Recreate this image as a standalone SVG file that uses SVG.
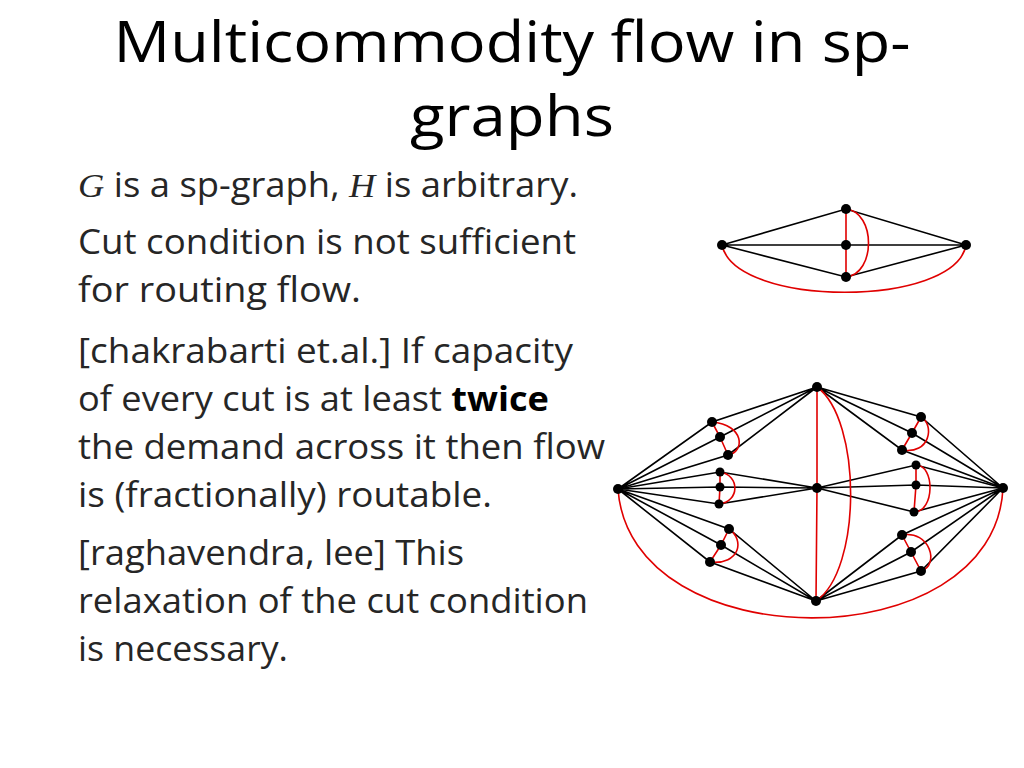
<svg xmlns="http://www.w3.org/2000/svg" width="1024" height="768" viewBox="0 0 1024 768">
<style>
.t{font-family:"Open Sans",sans-serif;font-size:56px;fill:#000;text-anchor:middle}
.b{font-family:"Open Sans",sans-serif;font-size:34px;fill:#262626}
.k{stroke:#000;stroke-width:1.6;fill:none}
.r{stroke:#e00000;stroke-width:1.6;fill:none}
circle{fill:#000}
</style>
<rect width="1024" height="768" fill="#fff"/>
<text class="t" x="512" y="62" textLength="797" lengthAdjust="spacingAndGlyphs">Multicommodity flow in sp-</text>
<text class="t" x="512" y="136" textLength="204" lengthAdjust="spacingAndGlyphs">graphs</text>
<g>
<text class="b" x="78" y="197" textLength="500" lengthAdjust="spacingAndGlyphs"><tspan font-style="italic" font-family="Liberation Serif,serif">G</tspan> is a sp-graph, <tspan font-style="italic" font-family="Liberation Serif,serif">H</tspan> is arbitrary.</text>
<text class="b" x="78" y="254" textLength="498" lengthAdjust="spacingAndGlyphs">Cut condition is not sufficient</text>
<text class="b" x="78" y="302" textLength="283" lengthAdjust="spacingAndGlyphs">for routing flow.</text>
<text class="b" x="78" y="363" textLength="495" lengthAdjust="spacingAndGlyphs">[chakrabarti et.al.] If capacity</text>
<text class="b" x="78" y="411" textLength="471" lengthAdjust="spacingAndGlyphs">of every cut is at least <tspan font-weight="bold" fill="#000">twice</tspan></text>
<text class="b" x="78" y="459" textLength="527" lengthAdjust="spacingAndGlyphs">the demand across it then flow</text>
<text class="b" x="78" y="507" textLength="414" lengthAdjust="spacingAndGlyphs">is (fractionally) routable.</text>
<text class="b" x="78" y="565" textLength="386" lengthAdjust="spacingAndGlyphs">[raghavendra, lee] This</text>
<text class="b" x="78" y="613" textLength="510" lengthAdjust="spacingAndGlyphs">relaxation of the cut condition</text>
<text class="b" x="78" y="661" textLength="210" lengthAdjust="spacingAndGlyphs">is necessary.</text>
</g>
<g id="connectors">
<path class="k" d="M722 245L846 209L966 245M722 245L966 245M722 245L846 277L966 245"/>
<path class="r" d="M846 209L846 277M846 209C876 212 876 274 846 277M722 245C735 308 955 308 966 245"/>
<path class="k" d="M618 489L712 422L817 387M618 489L720 437L817 387M618 489L728 455L817 387"/>
<path class="k" d="M618 489L720 472L817 488M618 489L720 487L817 488M618 489L719 504L817 488"/>
<path class="k" d="M618 489L729 529L816 601M618 489L721 545L816 601M618 489L710 562L816 601"/>
<path class="k" d="M1003 488L921 417L817 387M1003 488L912 433L817 387M1003 488L902 450L817 387"/>
<path class="k" d="M1003 488L916 465L817 488M1003 488L916 485L817 488M1003 488L914 512L817 488"/>
<path class="k" d="M1003 488L902 535L816 601M1003 488L911 552L816 601M1003 488L921 571L816 601"/>
<path class="r" d="M817 387L817 488L816 601M817 387C862 420 862 570 816 601M618 489C630 661 995 661 1003 488"/>
<path class="r" d="M712 422L720 437L728 455M712 422C745 425 745 452 728 455"/>
<path class="r" d="M720 472L720 487L719 504M720 472C740 475 740 502 719 504"/>
<path class="r" d="M729 529L721 545L710 562M729 529C745 540 740 565 710 562"/>
<path class="r" d="M921 417L912 433L902 450M921 417C935 425 930 455 902 450"/>
<path class="r" d="M916 465L916 485L914 512M916 465C935 465 935 512 914 512"/>
<path class="r" d="M902 535L911 552L921 571M902 535C930 530 940 565 921 571"/>
</g>
<g id="nodes">
<circle cx="722" cy="245" r="5"/><circle cx="846" cy="209" r="5"/><circle cx="846" cy="245" r="5"/><circle cx="846" cy="277" r="5"/><circle cx="966" cy="245" r="5"/>
<circle cx="618" cy="489" r="5"/><circle cx="817" cy="387" r="5"/><circle cx="817" cy="488" r="5"/><circle cx="816" cy="601" r="5"/><circle cx="1003" cy="488" r="5"/>
<circle cx="712" cy="422" r="5"/><circle cx="720" cy="437" r="5"/><circle cx="728" cy="455" r="5"/>
<circle cx="720" cy="472" r="4.5"/><circle cx="720" cy="487" r="4.5"/><circle cx="719" cy="504" r="4.5"/>
<circle cx="729" cy="529" r="5"/><circle cx="721" cy="545" r="5"/><circle cx="710" cy="562" r="5"/>
<circle cx="921" cy="417" r="5"/><circle cx="912" cy="433" r="5"/><circle cx="902" cy="450" r="5"/>
<circle cx="916" cy="465" r="4.5"/><circle cx="916" cy="485" r="4.5"/><circle cx="914" cy="512" r="4.5"/>
<circle cx="902" cy="535" r="5"/><circle cx="911" cy="552" r="5"/><circle cx="921" cy="571" r="5"/>
</g>
</svg>
